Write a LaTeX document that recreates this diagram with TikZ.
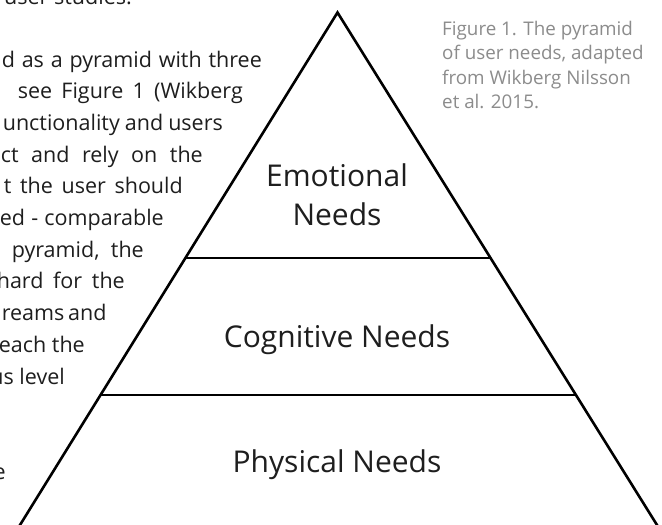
\documentclass[tikz,border=0pt]{standalone}
\usepackage{fontspec}
\setmainfont{Open Sans}
\usetikzlibrary{calc}
\definecolor{bodytext}{HTML}{1E1E1E}
\definecolor{captiongray}{HTML}{8C8C8C}

\begin{document}
\begin{tikzpicture}[x=1pt,y=-1pt,
  body/.style={inner sep=0pt,anchor=base east,text=bodytext,font=\fontsize{21.5}{26}\selectfont},
  caption/.style={inner sep=0pt,anchor=base west,text=captiongray,font=\fontsize{18.8}{22}\selectfont},
  level/.style={inner sep=0pt,anchor=base,text=bodytext,font=\fontsize{30}{35}\selectfont},
  edge/.style={line width=2.6pt,black}]
\useasboundingbox (0,0) rectangle (662,525);
\clip (0,0) rectangle (662,525);
\fill[white] (0,0) rectangle (662,525);
\coordinate (apex) at (337.5,12.5);
\coordinate (bl) at (20,525);
\coordinate (br) at (657,525);
\coordinate (u1) at ($(apex)!0.479!(bl)$);
\coordinate (u2) at ($(apex)!0.479!(br)$);
\coordinate (m1) at ($(apex)!0.746!(bl)$);
\coordinate (m2) at ($(apex)!0.746!(br)$);
\draw[edge,miter limit=20] ($(apex)!1.03!(bl)$) -- (apex) -- ($(apex)!1.03!(br)$);
\draw[edge] (u1) -- (u2);
\draw[edge] (m1) -- (m2);
\node[level] (emo) at (337,186) {Emotional};
\node[level] (emo2) at (337,225) {Needs};
\node[level] (cog) at (337,347) {Cognitive Needs};
\node[level] (phy) at (337,472) {Physical Needs};
\node[caption] (c1) at (442,35) {Figure 1. The pyramid};
\node[caption] (c2) at (442,59.5) {of user needs, adapted};
\node[caption] (c3) at (442,84) {from Wikberg Nilsson};
\node[caption] (c4) at (442,108.5) {et al. 2015.};
\node[body] (t0) at (132,4) {user studies.};
\node[body] (t1) at (262,67) {\makebox[260pt][s]{d as a pyramid with three}};
\node[body] (t2) at (243,98.7) {\makebox[225pt][s]{see Figure 1 (Wikberg}};
\node[body] (t3) at (223,130.4) {\makebox[220pt][s]{unctionality and users}};
\node[body] (t4) at (203,162.1) {\makebox[202pt][s]{ct and rely on the}};
\node[body] (t5) at (183,193.8) {\makebox[179pt][s]{t the user should}};
\node[body] (t6) at (164,225.5) {\makebox[164pt][s]{ed - comparable}};
\node[body] (t7) at (144,257.2) {\makebox[132pt][s]{pyramid, the}};
\node[body] (t8) at (125,288.9) {\makebox[128pt][s]{hard for the}};
\node[body] (t9) at (104,320.6) {\makebox[102pt][s]{reams and}};
\node[body] (t10) at (85,352.3) {\makebox[86pt][s]{each the}};
\node[body] (t11) at (65,384) {us level};
\node[body] (t12) at (6,479) {e};
\end{tikzpicture}
\end{document}
